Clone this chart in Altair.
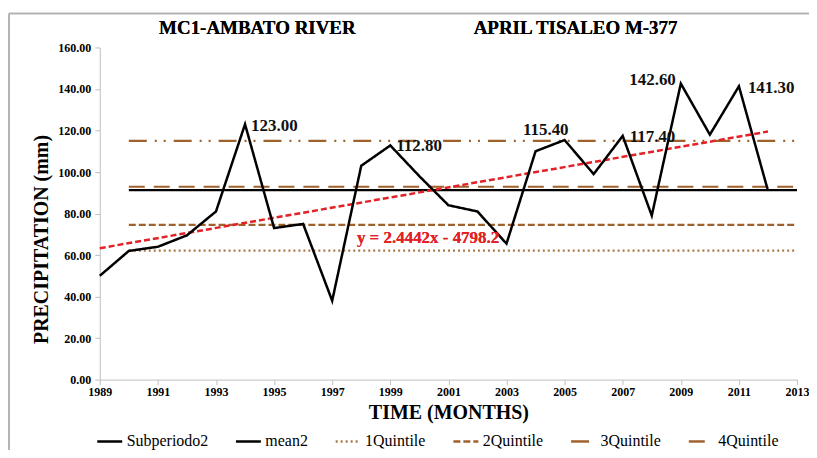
import altair as alt
import pandas as pd

# ---------------- data ----------------
years = list(range(1989, 2013))
precip = [50.0, 62.0, 64.0, 69.5, 81.0, 123.0, 73.0, 75.0, 38.0, 103.0, 112.8, 98.0,
          84.0, 81.0, 65.5, 110.0, 115.4, 99.0, 117.4, 79.0, 142.6, 118.0, 141.3, 91.0]

series_names = ["Subperiodo2", "mean2", "1Quintile", "2Quintile", "3Quintile", "4Quintile"]
level_names = ["mean2", "1Quintile", "2Quintile", "3Quintile", "4Quintile"]
level_values = [91.3, 62.1, 74.5, 115.0, 92.9]
level_span = [1990, 2013]

trend_years = [1989, 2012]
trend_values = [63.3, 119.5]
trend_label = "y = 2.4442x - 4798.2"
trend_label_anchor = [2000.3, 68.2]

label_years = [1994, 1999, 2005, 2007, 2009, 2011]
label_values = [123.0, 112.8, 115.4, 117.4, 142.6, 141.3]
label_texts = ["123.00", "112.80", "115.40", "117.40", "142.60", "141.30"]

x_ticks = list(range(1989, 2014, 2))
y_ticks = list(range(0, 161, 20))

title_left = "MC1-AMBATO RIVER"
title_right = "APRIL  TISALEO M-377"

# ---------------- tables ----------------
data_df = pd.DataFrame({"series": "Subperiodo2", "year": years, "value": precip})
lvl_rows = []
for n, v in zip(level_names, level_values):
    for yr in level_span:
        lvl_rows.append({"series": n, "year": yr, "value": v})
levels_df = pd.DataFrame(lvl_rows)
trend_df = pd.DataFrame({"year": trend_years, "value": trend_values})
labels_df = pd.DataFrame({"year": label_years, "value": label_values, "text": label_texts})

# ---------------- styles ----------------
FONT = "Liberation Serif"
W, H = 699, 333
BROWN = "#a0622d"
colors = ["#000000", "#000000", "#a87a4a", BROWN, BROWN, BROWN]
dashes = [[1, 0], [1, 0], [2, 3], [7, 3], [18, 8, 2, 7, 2, 8], [16, 9]]

xscale = alt.Scale(domain=[1989, 2013], nice=False, zero=False)
yscale = alt.Scale(domain=[0, 160], nice=False)

x_enc = alt.X("year:Q", scale=xscale, axis=alt.Axis(
    values=x_ticks, format="d", title="TIME (MONTHS)", grid=False,
    labelFont=FONT, labelFontWeight="bold", labelFontSize=12, labelColor="#000",
    labelPadding=2, labelFlush=False,
    domainColor="#bfbfbf", tickColor="#bfbfbf", tickSize=5,
    titleFont=FONT, titleFontWeight="bold", titleFontSize=20, titleColor="#000",
    titlePadding=5))
y_enc = alt.Y("value:Q", scale=yscale, axis=alt.Axis(
    values=y_ticks, format=".2f", title="PRECIPITATION (mm)", grid=False,
    labelFont=FONT, labelFontWeight="bold", labelFontSize=12, labelColor="#000",
    labelPadding=4, domainColor="#bfbfbf", tickColor="#bfbfbf", tickSize=5,
    titleFont=FONT, titleFontWeight="bold", titleFontSize=20, titleColor="#000",
    titleX=-58, titleY=192, titleAngle=270, titleAlign="center", titleBaseline="middle"))

color_enc = alt.Color("series:N", scale=alt.Scale(domain=series_names, range=colors),
                      legend=alt.Legend(orient="none", legendX=-4, legendY=381,
                                        direction="horizontal", title=None,
                                        labelFont=FONT, labelFontSize=16, labelColor="#000",
                                        symbolType="stroke", symbolSize=625,
                                        symbolStrokeWidth=2.5, labelOffset=3,
                                        columnPadding=22))
dash_enc = alt.StrokeDash("series:N", scale=alt.Scale(domain=series_names, range=dashes),
                          legend=None)

levels = alt.Chart(levels_df).mark_line(strokeWidth=2.2).encode(
    x=x_enc, y=y_enc, color=color_enc, strokeDash=dash_enc, detail="series:N")

trend = alt.Chart(trend_df).mark_line(color="#e32227", strokeWidth=2.5,
                                      strokeDash=[6, 3]).encode(x="year:Q", y="value:Q")

main = alt.Chart(data_df).mark_line(strokeWidth=2.5).encode(
    x="year:Q", y="value:Q", color=color_enc, strokeDash=dash_enc)

label_style = [("left", 6, 2), ("left", 6, 1), ("right", 4, -10),
               ("left", 7, 1), ("right", -5, -4), ("left", 9, 2)]
label_layers = []
for i, (al, dx, dy) in enumerate(label_style):
    label_layers.append(
        alt.Chart(labels_df.iloc[[i]]).mark_text(
            font=FONT, fontWeight="bold", fontSize=17, color="#111",
            align=al, baseline="middle", dx=dx, dy=dy
        ).encode(x="year:Q", y="value:Q", text="text:N"))

eq = alt.Chart(trend_df).mark_text(
    font=FONT, fontWeight="bold", fontSize=17, color="#e32227",
    align="center", baseline="middle"
).encode(x=alt.datum(trend_label_anchor[0]), y=alt.datum(trend_label_anchor[1]),
         text=alt.value(trend_label))

t1 = alt.Chart(trend_df).mark_text(font=FONT, fontWeight="bold", fontSize=19,
                                   color="#000", align="center", baseline="middle").encode(
    x=alt.value(158), y=alt.value(-19), text=alt.value(title_left))
t2 = alt.Chart(trend_df).mark_text(font=FONT, fontWeight="bold", fontSize=19,
                                   color="#000", align="center", baseline="middle").encode(
    x=alt.value(477), y=alt.value(-19), text=alt.value(title_right))

border_top = alt.Chart(trend_df).mark_rule(color="#b0b0b0", strokeWidth=1.5).encode(
    x=alt.value(-91), x2=alt.value(W + 20), y=alt.value(-34))
border_left = alt.Chart(trend_df).mark_rule(color="#b0b0b0", strokeWidth=1.5).encode(
    x=alt.value(-91), y=alt.value(-34), y2=alt.value(H + 80))

chart = alt.layer(border_top, border_left, levels, trend, main, eq, t1, t2,
                  *label_layers).properties(
    width=W, height=H,
    autosize=alt.AutoSizeParams(type="none"),
    padding={"left": 92, "top": 39, "right": 12, "bottom": 70},
    background="white"
).configure_view(stroke=None)

chart.save("out.html", embed_options={"renderer": "svg", "actions": False})
